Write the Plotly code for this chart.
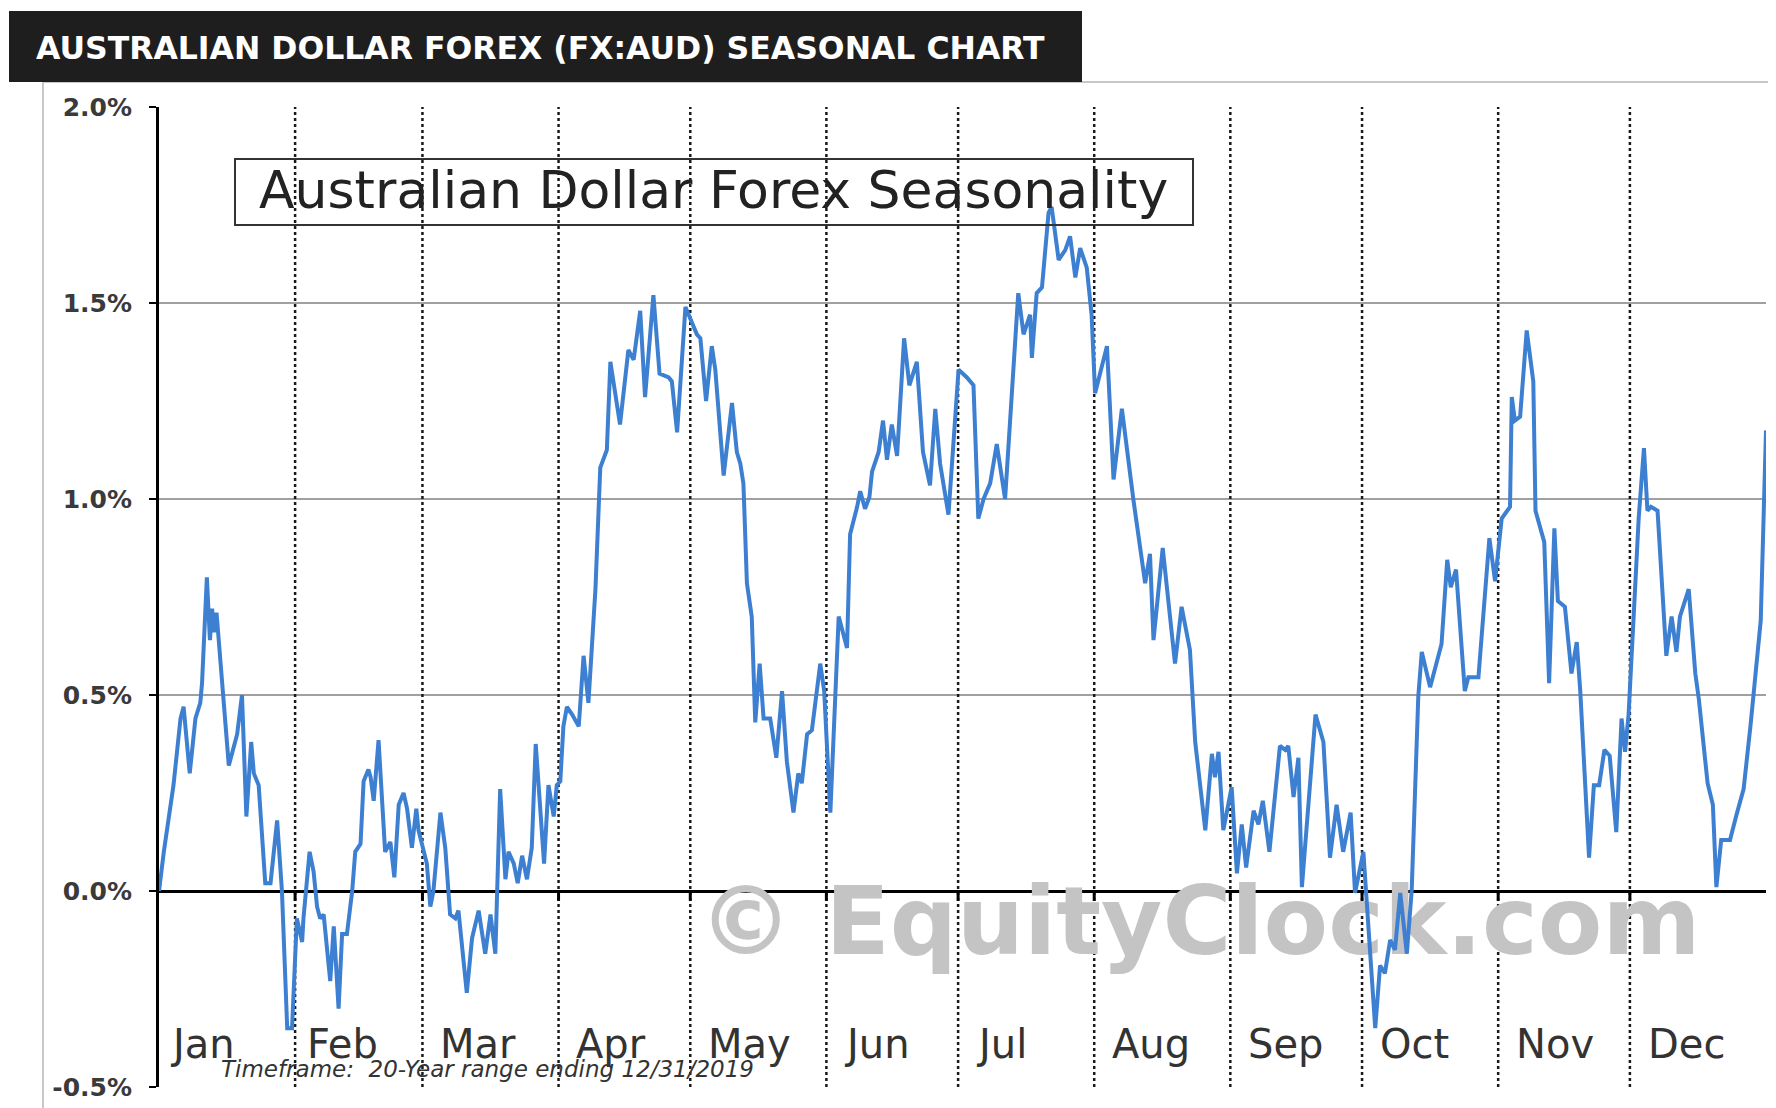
import plotly.graph_objects as go

# ---- data (day of a 366-day seasonal year, average % gain) ----
days = [0.0, 1.1, 3.3, 4.9, 5.6, 7.0, 8.3, 9.4, 9.8, 10.9, 11.6, 12.1, 12.5, 13.1, 15.9, 17.8, 18.9, 19.9,
        21.0, 21.6, 22.7, 24.2, 25.4, 26.9, 28.0, 29.2, 30.3, 31.4, 32.6, 32.9, 34.3, 35.2, 36.0, 36.7,
        37.5, 39.0, 39.8, 40.9, 41.7, 42.8, 44.0, 44.7, 45.9, 46.6, 47.7, 48.2, 48.9, 50.0, 51.5, 52.7,
        53.6, 54.6, 55.7, 56.5, 57.6, 58.6, 59.1, 60.3, 61.0, 61.8, 62.5, 64.1, 65.2, 66.3, 67.5, 68.2,
        70.1, 71.3, 72.8, 74.3, 75.5, 76.6, 77.7, 78.9, 79.6, 80.8, 81.7, 82.7, 83.8, 84.9, 85.8, 87.7,
        88.7, 89.9, 90.6, 91.4, 92.1, 92.9, 94.1, 95.6, 96.7, 97.8, 99.4, 100.5, 102.0, 102.8, 105.0,
        106.9, 108.1, 109.6, 110.7, 112.6, 114.0, 116.1, 116.8, 118.0, 119.9, 122.5, 123.3, 124.6, 125.9,
        126.7, 128.6, 130.5, 131.6, 132.4, 133.1, 133.9, 135.0, 135.8, 136.8, 137.7, 139.2, 140.6, 141.9,
        143.0, 144.5, 145.6, 146.4, 147.6, 148.7, 150.6, 151.5, 152.9, 154.8, 156.7, 157.4, 159.0, 159.7,
        160.8, 161.8, 162.4, 163.9, 164.9, 165.8, 166.9, 168.1, 169.7, 170.9, 172.6, 174.0, 175.6, 176.8,
        177.9, 179.8, 182.1, 184.0, 185.5, 186.6, 187.8, 189.3, 190.8, 192.7, 195.7, 196.9, 198.4, 198.8,
        199.9, 201.1, 202.6, 203.3, 204.9, 206.4, 207.5, 208.7, 209.8, 211.3, 212.4, 213.2, 215.9, 217.4,
        219.3, 221.9, 224.6, 225.7, 226.5, 228.6, 231.4, 232.9, 234.8, 236.0, 238.3, 239.8, 240.5, 241.3,
        242.4, 244.3, 245.5, 246.6, 247.6, 249.3, 250.4, 251.4, 252.9, 255.3, 256.5, 257.2, 258.4, 259.5,
        260.3, 263.4, 265.2, 266.7, 268.2, 269.7, 271.4, 272.4, 274.3, 275.2, 277.0, 278.1, 279.2, 280.4,
        281.5, 282.7, 284.2, 285.3, 286.8, 287.6, 289.5, 292.1, 293.4, 294.2, 295.4, 297.4, 298.2, 300.5,
        303.0, 304.3, 305.8, 307.7, 308.1, 308.8, 310.0, 311.5, 313.0, 313.5, 315.5, 316.6, 317.8, 318.6,
        320.2, 321.7, 322.9, 323.7, 325.7, 326.8, 328.0, 329.2, 330.4, 331.9, 333.1, 333.9, 334.7, 336.2,
        337.0, 338.2, 339.0, 339.8, 341.3, 343.3, 344.5, 345.6, 346.4, 348.4, 349.9, 350.7, 352.7, 353.9,
        354.7, 355.8, 357.8, 359.3, 360.9, 362.5, 364.8, 366.0]

aud_pct = [0.00, 0.10, 0.27, 0.44, 0.47, 0.30, 0.44, 0.48, 0.53, 0.80, 0.64, 0.72, 0.66, 0.71, 0.32, 0.40, 0.50, 0.19,
           0.38, 0.30, 0.27, 0.02, 0.02, 0.18, 0.00, -0.35, -0.35, -0.07, -0.13, -0.07, 0.10, 0.05, -0.04, -0.07,
           -0.06, -0.23, -0.09, -0.30, -0.11, -0.11, 0.00, 0.10, 0.12, 0.28, 0.31, 0.29, 0.23, 0.385, 0.10, 0.125,
           0.035, 0.22, 0.25, 0.21, 0.11, 0.21, 0.155, 0.105, 0.07, -0.04, 0.00, 0.20, 0.11, -0.06, -0.07, -0.05,
           -0.26, -0.12, -0.05, -0.16, -0.06, -0.16, 0.26, 0.03, 0.10, 0.07, 0.02, 0.09, 0.03, 0.11, 0.375, 0.07,
           0.27, 0.19, 0.27, 0.28, 0.42, 0.47, 0.45, 0.42, 0.60, 0.48, 0.77, 1.08, 1.125, 1.35, 1.19,
           1.38, 1.355, 1.48, 1.26, 1.52, 1.32, 1.31, 1.30, 1.17, 1.49, 1.42, 1.41, 1.25, 1.39,
           1.33, 1.06, 1.245, 1.12, 1.09, 1.04, 0.785, 0.70, 0.43, 0.58, 0.44, 0.44, 0.34, 0.51,
           0.33, 0.20, 0.30, 0.275, 0.40, 0.41, 0.58, 0.51, 0.20, 0.70, 0.62, 0.91, 0.98, 1.02,
           0.975, 1.005, 1.07, 1.12, 1.20, 1.10, 1.19, 1.11, 1.41, 1.29, 1.35, 1.12, 1.035, 1.23,
           1.09, 0.96, 1.33, 1.31, 1.29, 0.95, 1.00, 1.04, 1.14, 1.00, 1.525, 1.42, 1.47, 1.36,
           1.525, 1.54, 1.73, 1.745, 1.61, 1.635, 1.67, 1.565, 1.64, 1.59, 1.47, 1.27, 1.39, 1.05,
           1.23, 1.00, 0.785, 0.86, 0.64, 0.875, 0.58, 0.725, 0.615, 0.38, 0.155, 0.35, 0.29, 0.355,
           0.155, 0.265, 0.045, 0.17, 0.06, 0.205, 0.17, 0.23, 0.10, 0.37, 0.36, 0.37, 0.24, 0.34,
           0.01, 0.45, 0.38, 0.085, 0.22, 0.10, 0.20, -0.005, 0.10, -0.06, -0.35, -0.19, -0.21, -0.125,
           -0.15, -0.005, -0.16, 0.00, 0.495, 0.61, 0.52, 0.63, 0.845, 0.775, 0.82, 0.51, 0.545, 0.545,
           0.90, 0.79, 0.95, 0.98, 1.26, 1.20, 1.21, 1.43, 1.30, 0.97, 0.89, 0.53, 0.925, 0.74,
           0.725, 0.555, 0.635, 0.51, 0.085, 0.27, 0.27, 0.36, 0.345, 0.15, 0.44, 0.355, 0.45, 0.775,
           0.95, 1.13, 0.97, 0.98, 0.97, 0.60, 0.70, 0.61, 0.70, 0.77, 0.555, 0.49, 0.275, 0.22,
           0.01, 0.13, 0.13, 0.195, 0.26, 0.425, 0.69, 1.175]

months = ["Jan", "Feb", "Mar", "Apr", "May", "Jun", "Jul", "Aug", "Sep", "Oct", "Nov", "Dec"]
month_starts = [0, 31, 60, 91, 121, 152, 182, 213, 244, 274, 305, 335]
year_len = 366
y_ticks = [-0.5, 0.0, 0.5, 1.0, 1.5, 2.0]
y_tick_text = ["-0.5%", "0.0%", "0.5%", "1.0%", "1.5%", "2.0%"]
grid_levels = [0.5, 1.0, 1.5]

# page layout (the browser page adds an 8px body margin around the figure)
OFF = 8
W, H = 1760, 1100
ML, MT = 151, 99
PW, PH = 1607, 980
MR = W - ML - PW
MB = H - MT - PH


def px(page_x):
    return (page_x - OFF - ML) / PW


def py(page_y):
    return (MT + PH + OFF - page_y) / PH


fig = go.Figure()

# watermark underneath the line
fig.add_trace(go.Scatter(
    x=[237], y=[-0.1], mode="text", text=["© EquityClock.com"],
    textfont=dict(family="DejaVu Sans", size=94, color="#c4c4c4", weight="bold"),
    hoverinfo="skip", showlegend=False))

fig.add_trace(go.Scatter(
    x=days, y=aud_pct, mode="lines",
    line=dict(color="#3d7fd1", width=4),
    hoverinfo="skip", showlegend=False))

shapes = []
for g in grid_levels:
    shapes.append(dict(type="line", xref="paper", yref="y", x0=0, x1=1, y0=g, y1=g,
                       line=dict(color="#808080", width=1.5), layer="below"))
for b in month_starts[1:]:
    shapes.append(dict(type="line", xref="x", yref="paper", x0=b, x1=b, y0=0, y1=1,
                       line=dict(color="#1a1a1a", width=2.5, dash="dot"), layer="below"))
    shapes.append(dict(type="line", xref="x", yref="y", x0=b, x1=b, y0=-0.025, y1=0,
                       line=dict(color="#000000", width=3), layer="above"))

# outer light frame
shapes.append(dict(type="line", xref="paper", yref="paper", x0=px(43), x1=px(43), y0=py(1110), y1=py(82),
                   line=dict(color="#c8c8c8", width=2)))
shapes.append(dict(type="line", xref="paper", yref="paper", x0=px(43), x1=px(1790), y0=py(82), y1=py(82),
                   line=dict(color="#c8c8c8", width=2)))
# title bar
shapes.append(dict(type="rect", xref="paper", yref="paper", x0=px(9), x1=px(1082), y0=py(82), y1=py(11),
                   fillcolor="#1e1e1e", line=dict(width=0)))
# inner title box
shapes.append(dict(type="rect", xref="paper", yref="paper", x0=px(235), x1=px(1193), y0=py(225), y1=py(159),
                   line=dict(color="#333333", width=2), fillcolor="rgba(0,0,0,0)"))

annotations = [
    dict(text="AUSTRALIAN DOLLAR FOREX (FX:AUD) SEASONAL CHART", xref="paper", yref="paper",
         x=px(34), y=py(48), xanchor="left", yanchor="middle", showarrow=False,
         font=dict(family="DejaVu Sans", size=31.5, color="#ffffff", weight="bold")),
    dict(text="Australian Dollar Forex Seasonality", xref="paper", yref="paper",
         x=px(713), y=py(190), xanchor="center", yanchor="middle", showarrow=False,
         font=dict(family="DejaVu Sans", size=52, color="#222222")),
    dict(text="<i>Timeframe:  20-Year range ending 12/31/2019</i>", xref="x", yref="y",
         x=13.6, y=-0.455, xanchor="left", yanchor="middle", showarrow=False,
         font=dict(family="DejaVu Sans", size=23, color="#333333")),
]
label_offsets = [2.0, 2.2, 3.6, 3.6, 3.6, 3.6, 3.6, 3.6, 3.6, 3.6, 3.6, 3.6]
for m, s, o in zip(months, month_starts, label_offsets):
    annotations.append(dict(text=m, xref="x", yref="y", x=s + o, y=-0.39,
                            xanchor="left", yanchor="middle", showarrow=False,
                            font=dict(family="DejaVu Sans", size=40, color="#333333")))

fig.update_layout(
    width=W, height=H,
    margin=dict(l=ML, r=MR, t=MT, b=MB),
    paper_bgcolor="white", plot_bgcolor="white",
    shapes=shapes, annotations=annotations,
    xaxis=dict(range=[0, year_len], showgrid=False, zeroline=False, showline=False,
               showticklabels=False, ticks=""),
    yaxis=dict(range=[-0.5, 2.0], tickvals=y_ticks, ticktext=y_tick_text,
               showgrid=False, zeroline=True, zerolinecolor="#000000", zerolinewidth=3,
               showline=True, linecolor="#000000", linewidth=3,
               ticks="outside", ticklen=7, tickwidth=2, tickcolor="#000000",
               ticklabelstandoff=12,
               tickfont=dict(family="DejaVu Sans", size=25, color="#3a3a3a", weight="bold")),
)

fig.write_html("out.html")
